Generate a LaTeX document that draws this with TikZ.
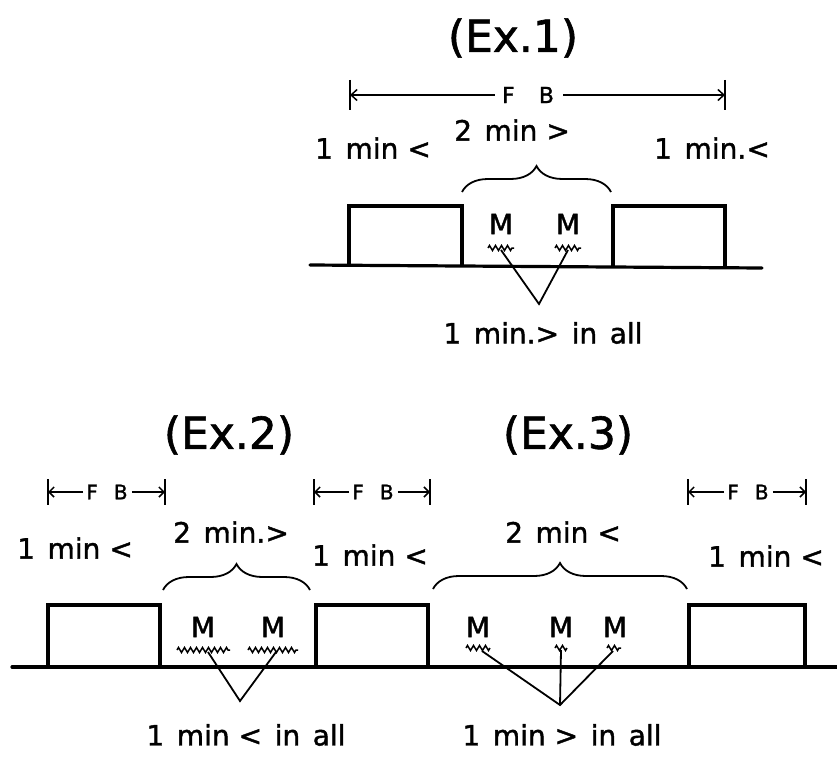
\documentclass[tikz,border=0pt]{standalone}
\usepackage{fontspec}
\setmainfont{DejaVu Sans}[FakeBold=1.4]
\usetikzlibrary{arrows.meta,decorations.pathmorphing,decorations.pathreplacing}
\newcommand\gp{\hspace{0.45em}}
\begin{document}
\begin{tikzpicture}[x=1pt,y=-1pt,
 title/.style={font=\fontsize{44}{44}\selectfont, inner sep=0},
 lbl/.style={font=\fontsize{28}{28}\selectfont, inner sep=0},
 mlbl/.style={font=\fontsize{28}{28}\selectfont, inner sep=0},
 fbbig/.style={font=\fontsize{22}{22}\selectfont, inner sep=0},
 fbsmall/.style={font=\fontsize{20}{20}\selectfont, inner sep=0},
 slot/.style={line width=3.2pt, line join=miter},
 ground/.style={line width=3.2pt, line cap=round},
 conn/.style={line width=1.8pt},
 wave/.style={line width=1.5pt, decorate, decoration={zigzag, segment length=6pt, amplitude=2.5pt}},
 brc/.style={line width=1.8pt, decorate, decoration={brace, amplitude=26pt}},
 dim/.style={line width=1.5pt, -{Straight Barb[length=6pt,width=11pt]}},
 dimsmall/.style={line width=1.5pt, -{Straight Barb[length=5pt,width=10pt]}},
 stopbar/.style={line width=1.8pt}
]
\useasboundingbox (0,0) rectangle (837,757);

% ---------------- Ex.1 ----------------
\node[title] (t1) at (513,38) {(Ex.1)};
\node[fbbig] (fb1) at (528,95) {F\hspace{1.1em}B};
\coordinate (fb1l) at (350,95);
\coordinate (fb1r) at (725,95);
\draw[dim] ([xshift=-7pt]fb1.west) -- (fb1l);
\draw[dim] ([xshift=9pt]fb1.east) -- (fb1r);
\draw[stopbar] ([yshift=15pt]fb1l) -- ([yshift=-15pt]fb1l);
\draw[stopbar] ([yshift=15pt]fb1r) -- ([yshift=-15pt]fb1r);

\node[lbl] (a1) at (373,148) {1\gp min <};
\node[lbl] (b1) at (512,130) {2\gp min >};
\node[lbl] (c1) at (712,148) {1\gp min.<};

\coordinate (br1l) at (462,192);
\coordinate (br1r) at (611,192);
\draw[brc] (br1l) -- (br1r);

\draw[slot] (349,265) -- (349,206) -- (462,206) -- (462,265);
\draw[slot] (613,267) -- (613,206) -- (725,206) -- (725,267);
\coordinate (g1l) at (310,265);
\coordinate (g1r) at (762,268);
\draw[ground] (g1l) -- (g1r);

\node[mlbl] (m11) at (501,224) {M};
\node[mlbl] (m12) at (568,224) {M};
\draw[wave] (488,248) -- (514,248);
\draw[wave] (555,248) -- (581,248);
\coordinate (z11) at (501,250);
\coordinate (z12) at (568,250);
\coordinate (v1) at (539,304);
\draw[conn] (z11) -- (v1) -- (z12);
\node[lbl] (s1) at (543,333) {1\gp min.>\gp in\gp all};

% ---------------- Ex.2 / Ex.3 ----------------
\node[title] (t2) at (229,435) {(Ex.2)};
\node[title] (t3) at (568,435) {(Ex.3)};

\node[fbsmall] (fb2) at (107,492) {F\hspace{0.8em}B};
\coordinate (fb2l) at (48,492);
\coordinate (fb2r) at (165,492);
\draw[dimsmall] ([xshift=-3pt]fb2.west) -- (fb2l);
\draw[dimsmall] ([xshift=4pt]fb2.east) -- (fb2r);
\draw[stopbar] ([yshift=13pt]fb2l) -- ([yshift=-13pt]fb2l);
\draw[stopbar] ([yshift=13pt]fb2r) -- ([yshift=-13pt]fb2r);

\node[fbsmall] (fb3) at (373,492) {F\hspace{0.8em}B};
\coordinate (fb3l) at (314,492);
\coordinate (fb3r) at (430,492);
\draw[dimsmall] ([xshift=-3pt]fb3.west) -- (fb3l);
\draw[dimsmall] ([xshift=4pt]fb3.east) -- (fb3r);
\draw[stopbar] ([yshift=13pt]fb3l) -- ([yshift=-13pt]fb3l);
\draw[stopbar] ([yshift=13pt]fb3r) -- ([yshift=-13pt]fb3r);

\node[fbsmall] (fb4) at (748,492) {F\hspace{0.8em}B};
\coordinate (fb4l) at (688,492);
\coordinate (fb4r) at (806,492);
\draw[dimsmall] ([xshift=-3pt]fb4.west) -- (fb4l);
\draw[dimsmall] ([xshift=4pt]fb4.east) -- (fb4r);
\draw[stopbar] ([yshift=13pt]fb4l) -- ([yshift=-13pt]fb4l);
\draw[stopbar] ([yshift=13pt]fb4r) -- ([yshift=-13pt]fb4r);

\node[lbl] (a2) at (75,548) {1\gp min <};
\node[lbl] (b2) at (231,532) {2\gp min.>};
\node[lbl] (c2) at (370,555) {1\gp min <};
\node[lbl] (b3) at (563,532) {2\gp min <};
\node[lbl] (c3) at (766,556) {1\gp min <};

\coordinate (br2l) at (163,590);
\coordinate (br2r) at (310,590);
\draw[brc] (br2l) -- (br2r);
\coordinate (br3l) at (433,589);
\coordinate (br3r) at (687,589);
\draw[brc] (br3l) -- (br3r);

\draw[slot] (48,667) -- (48,605) -- (160,605) -- (160,667);
\draw[slot] (316,667) -- (316,605) -- (428,605) -- (428,667);
\draw[slot] (689,667) -- (689,605) -- (805,605) -- (805,667);
\coordinate (g2l) at (12,667);
\coordinate (g2r) at (837,667);
\draw[ground] (g2l) -- (g2r);

% Ex.2 markers
\node[mlbl] (m21) at (203,627) {M};
\node[mlbl] (m22) at (273,627) {M};
\draw[wave] (177,650) -- (230,650);
\draw[wave] (248,650) -- (298,650);
\coordinate (z21) at (208,652);
\coordinate (z22) at (276,652);
\coordinate (v2) at (240,701);
\draw[conn] (z21) -- (v2) -- (z22);
\node[lbl] (s2) at (246,735) {1\gp min <\gp in\gp all};

% Ex.3 markers
\node[mlbl] (m31) at (478,627) {M};
\node[mlbl] (m32) at (561,627) {M};
\node[mlbl] (m33) at (615,627) {M};
\draw[wave] (466,648) -- (490,648);
\draw[wave] (555,648) -- (567,648);
\draw[wave] (607,648) -- (621,648);
\coordinate (z31) at (482,651);
\coordinate (z32) at (561,650);
\coordinate (z33) at (613,651);
\coordinate (v3) at (560,705);
\draw[conn] (z31) -- (v3) -- (z33);
\draw[conn] (z32) -- (v3);
\node[lbl] (s3) at (562,735) {1\gp min >\gp in\gp all};
\end{tikzpicture}
\end{document}
